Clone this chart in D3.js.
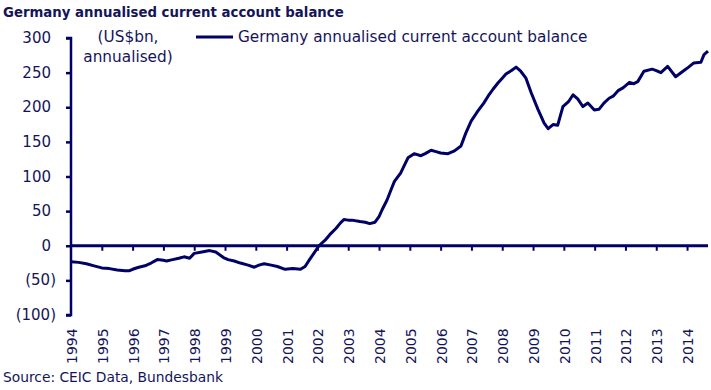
<!DOCTYPE html>
<html>
<head>
<meta charset="utf-8">
<script src="https://cdn.jsdelivr.net/npm/d3@7/dist/d3.min.js"></script>
<style>
body{margin:0;background:#fff;}
svg{display:block;font-family:"DejaVu Sans",Verdana,sans-serif;}
</style>
</head>
<body>
<svg id="chart" width="711" height="390"></svg>
<script>
// Decimal years (time of observation)
const dates = [1994.0,1994.25,1994.5,1994.75,1995.0,1995.25,1995.5,1995.75,1995.9,1996.0,1996.2,1996.4,1996.6,1996.8,1997.0,1997.1,1997.3,1997.5,1997.67,1997.85,1998.0,1998.25,1998.5,1998.7,1998.95,1999.1,1999.3,1999.5,1999.75,1999.95,2000.1,2000.27,2000.5,2000.7,2000.95,2001.2,2001.45,2001.6,2001.76,2001.9,2002.05,2002.25,2002.4,2002.6,2002.75,2002.86,2003.0,2003.12,2003.38,2003.55,2003.7,2003.87,2004.0,2004.1,2004.26,2004.4,2004.5,2004.7,2004.94,2005.14,2005.36,2005.5,2005.69,2005.85,2006.0,2006.24,2006.45,2006.66,2006.82,2006.99,2007.2,2007.4,2007.54,2007.7,2007.86,2008.0,2008.12,2008.3,2008.45,2008.6,2008.77,2008.94,2009.16,2009.36,2009.49,2009.65,2009.8,2009.97,2010.15,2010.3,2010.45,2010.62,2010.78,2010.99,2011.14,2011.3,2011.47,2011.6,2011.76,2011.92,2012.13,2012.27,2012.4,2012.6,2012.87,2013.0,2013.15,2013.37,2013.63,2013.9,2014.05,2014.22,2014.45,2014.55,2014.68];
// US$bn, annualised
const balance = [-23,-24,-26,-29,-32,-33,-35,-36,-36,-34,-31,-29,-25,-20,-21,-22,-20,-18,-16,-18,-11,-9,-7,-9,-17,-20,-22,-25,-28,-31,-28,-26,-28,-30,-34,-33,-34,-30,-19,-10,0,8,16,25,33,38,37,37,35,34,32,34,42,52,66,82,93,105,127,133,130,133,138,136,134,133,137,144,163,180,194,206,216,226,235,242,248,253,258,252,242,221,197,177,169,175,174,201,208,218,212,201,206,196,197,206,213,216,224,228,236,234,237,252,255,253,250,259,244,253,258,264,265,276,281];
const yearLabels = ["1994","1995","1996","1997","1998","1999","2000","2001","2002","2003","2004","2005","2006","2007","2008","2009","2010","2011","2012","2013","2014"];
const yTicks = [-100,-50,0,50,100,150,200,250,300];

const navy = "#000066";
const textCol = "#14145a";
const svg = d3.select("#chart");

const x = d3.scaleLinear().domain([1994, 2014.68]).range([71, 708]);
const y = d3.scaleLinear().domain([-100, 300]).range([315, 38]);

// Title
svg.append("text").attr("x", 3).attr("y", 17)
  .attr("font-size", 13.3).attr("font-weight", "bold").attr("fill", textCol)
  .text("Germany annualised current account balance");

// Y axis
const yAxis = d3.axisLeft(y).tickValues(yTicks).tickSize(5).tickFormat("");
const gy = svg.append("g").attr("transform", "translate(71,0)").call(yAxis);
gy.select(".domain").attr("stroke", navy).attr("stroke-width", 2.5).attr("d", "M-5," + y(300) + "H0V" + y(-100) + "H-5");
gy.selectAll(".tick line").attr("stroke", navy).attr("stroke-width", 2.5);

// Y tick labels (accounting style: negatives in parentheses hang past the digits)
svg.append("g").selectAll("text").data(yTicks).join("text")
  .attr("x", d => d < 0 ? 56 : 51)
  .attr("y", d => y(d))
  .attr("dominant-baseline", "central")
  .attr("text-anchor", "end")
  .attr("font-size", 15).attr("fill", textCol)
  .text(d => d < 0 ? "(" + Math.abs(d) + ")" : d);

// X axis at zero
const yearVals = yearLabels.map(Number);
const xAxis = d3.axisBottom(x).tickValues(yearVals.slice(1)).tickSize(5).tickFormat("");
const gx = svg.append("g").attr("transform", "translate(0," + y(0) + ")").call(xAxis);
gx.select(".domain").attr("stroke", navy).attr("stroke-width", 3).attr("d", "M" + x(1994) + ",0H" + x(2014.68));
gx.selectAll(".tick line").attr("stroke", navy).attr("stroke-width", 2);

// Year labels (rotated)
svg.append("g").selectAll("text").data(yearLabels).join("text")
  .attr("transform", d => "translate(" + (x(+d) + 1) + ",364) rotate(-90)")
  .attr("dominant-baseline", "central")
  .attr("text-anchor", "start")
  .attr("font-size", 14).attr("fill", textCol)
  .text(d => d);

// Line
const pts = dates.map((d, i) => [d, balance[i]]);
const line = d3.line().x(d => x(d[0])).y(d => y(d[1]));
svg.append("path").datum(pts).attr("d", line)
  .attr("fill", "none").attr("stroke", navy).attr("stroke-width", 3)
  .attr("stroke-linejoin", "round");

// Unit label
svg.append("text").attr("x", 128).attr("y", 42).attr("text-anchor", "middle")
  .attr("font-size", 15.3).attr("fill", textCol).text("(US$bn,");
svg.append("text").attr("x", 128).attr("y", 62).attr("text-anchor", "middle")
  .attr("font-size", 15.3).attr("fill", textCol).text("annualised)");

// Legend
svg.append("line").attr("x1", 196).attr("x2", 233).attr("y1", 37).attr("y2", 37)
  .attr("stroke", navy).attr("stroke-width", 3);
svg.append("text").attr("x", 238).attr("y", 42)
  .attr("font-size", 15.3).attr("fill", textCol)
  .text("Germany annualised current account balance");

// Source
svg.append("text").attr("x", 3).attr("y", 382)
  .attr("font-size", 13.8).attr("fill", textCol)
  .text("Source: CEIC Data, Bundesbank");
</script>
</body>
</html>
